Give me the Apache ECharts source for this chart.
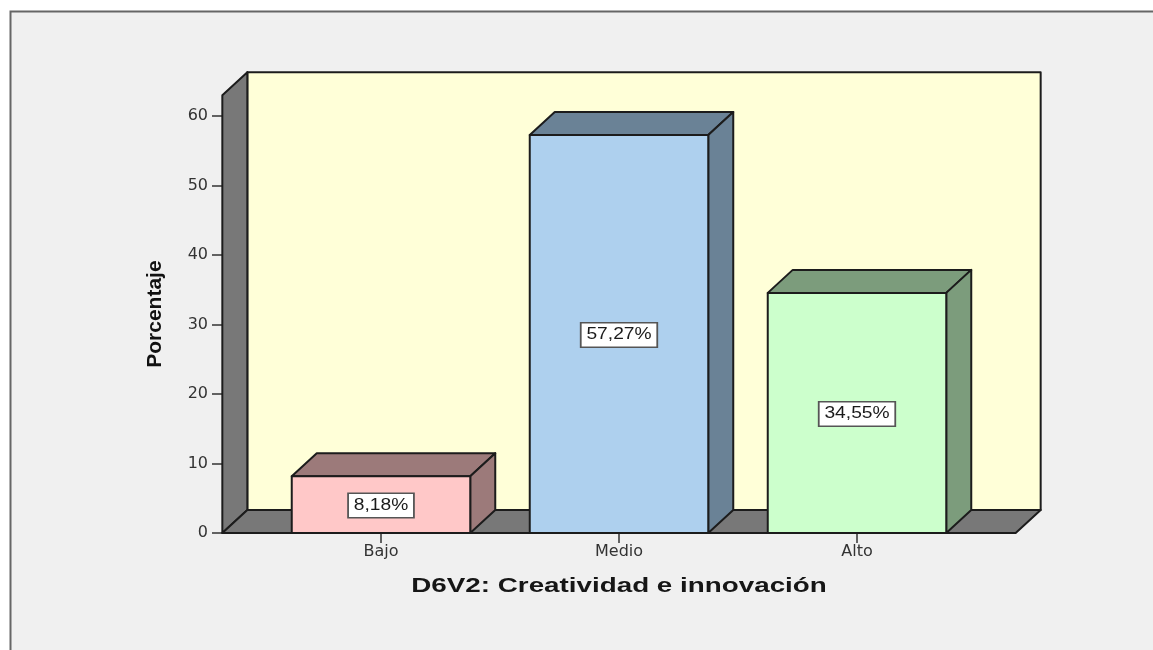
<!DOCTYPE html>
<html>
<head>
<meta charset="utf-8">
<style>html,body{margin:0;padding:0;background:#fff}#c{width:1153px;height:650px}</style>
<script src="https://cdn.jsdelivr.net/npm/echarts@6/dist/echarts.min.js"></script>
</head>
<body>
<div id="c"></div>
<script>
const categories = ['Bajo', 'Medio', 'Alto'];
const percentages = [8.18, 57.27, 34.55];
const percentLabels = ['8,18%', '57,27%', '34,55%'];
const yTicks = [0, 10, 20, 30, 40, 50, 60];
const yMax = 63;
const frontColors = ['#ffc8c8', '#aed0ee', '#ccffcc'];
const shadeColors = ['#9c7a7a', '#6a8296', '#7c9c7c'];
const xTitle = 'D6V2: Creatividad e innovación';
const yTitle = 'Porcentaje';

const DX = 25, DY = -23;
const STROKE = '#1c1c1c';
const edge = { stroke: STROKE, lineWidth: 2, lineJoin: 'round' };
const poly = (pts, fill) => ({ type: 'polygon', shape: { points: pts }, style: Object.assign({ fill }, edge) });

function renderShell(params, api) {
  const band = api.size([1, 0])[0];
  const pad = band / 6;
  const l = api.coord([0, 0])[0] - band / 2 - pad;
  const r = api.coord([categories.length - 1, 0])[0] + band / 2 + pad;
  const b = api.coord([0, 0])[1];
  const t = api.coord([0, yMax])[1];
  const cx = (l + r) / 2;
  return { type: 'group', children: [
    poly([[l + DX, t + DY], [r + DX, t + DY], [r + DX, b + DY], [l + DX, b + DY]], '#ffffd8'),
    poly([[l, t], [l + DX, t + DY], [l + DX, b + DY], [l, b]], '#787878'),
    poly([[l, b], [l + DX, b + DY], [r + DX, b + DY], [r, b]], '#787878'),
    { type: 'text', x: cx, y: b + 53, scaleX: 1.39, style: {
      text: xTitle, fontFamily: 'Liberation Sans', fontWeight: 'bold', fontSize: 20,
      fill: '#161616', align: 'center', verticalAlign: 'middle'
    } }
  ] };
}

function renderBar(params, api) {
  const i = api.value(0), v = api.value(1);
  const c = api.coord([i, v]);
  const b = api.coord([i, 0])[1];
  const w = api.size([1, 0])[0] * 0.75;
  const l = c[0] - w / 2, r = c[0] + w / 2, t = c[1];
  return { type: 'group', children: [
    poly([[l, t], [l + DX, t + DY], [r + DX, t + DY], [r, t]], shadeColors[i]),
    poly([[r, t], [r + DX, t + DY], [r + DX, b + DY], [r, b]], shadeColors[i]),
    poly([[l, t], [r, t], [r, b], [l, b]], frontColors[i]),
    { type: 'text', x: c[0], y: (t + b) / 2 + 1, scaleX: 1.2, style: {
      text: percentLabels[i], fontFamily: 'Liberation Sans', fontSize: 16, fill: '#1a1a1a',
      align: 'center', verticalAlign: 'middle', backgroundColor: '#fff',
      borderColor: '#555', borderWidth: 1.5, padding: [4, 4, 3, 4]
    } }
  ] };
}

const chart = echarts.init(document.getElementById('c'), null, { renderer: 'canvas' });
chart.setOption({
  animation: false,
  backgroundColor: '#ffffff',
  graphic: [{ type: 'rect', z: -10, silent: true, shape: { x: 10.5, y: 11.5, width: 1300, height: 800 },
    style: { fill: '#f0f0f0', stroke: '#666', lineWidth: 2 } }],
  grid: { left: 262, width: 714, top: 95.15, height: 437.85 },
  xAxis: {
    type: 'category', data: categories,
    axisLine: { show: false },
    axisTick: { show: true, alignWithLabel: true, length: 10, lineStyle: { color: '#333', width: 1.5 } },
    axisLabel: { color: '#333', fontFamily: 'DejaVu Sans', fontSize: 16, margin: 11 }
  },
  yAxis: {
    type: 'value', min: 0, max: yMax, offset: 40, position: 'left',
    splitLine: { show: false },
    axisLine: { show: false },
    axisTick: { show: true, length: 10, customValues: yTicks, lineStyle: { color: '#333', width: 1.5 } },
    axisLabel: { color: '#333', fontFamily: 'DejaVu Sans', fontSize: 16, margin: 14, customValues: yTicks },
    name: yTitle, nameLocation: 'middle', nameGap: 56, nameRotate: 90,
    nameTextStyle: { color: '#111', fontFamily: 'Liberation Sans', fontWeight: 'bold', fontSize: 21 }
  },
  series: [
    { type: 'custom', silent: true, clip: false, z: 1, data: [[0, 0]], renderItem: renderShell },
    { type: 'custom', silent: true, clip: false, z: 2, data: percentages.map((v, i) => [i, v]),
      encode: { x: 0, y: 1 }, renderItem: renderBar }
  ]
});
</script>
</body>
</html>
